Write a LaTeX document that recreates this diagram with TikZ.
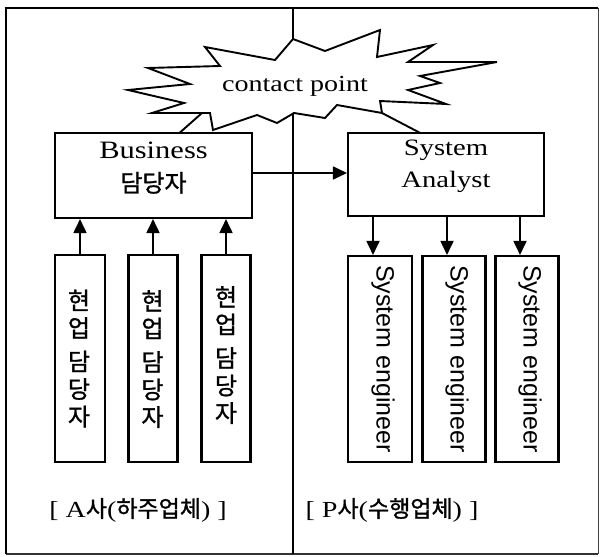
\documentclass[tikz,border=0pt]{standalone}
\usepackage{fontspec}
\setmainfont{Liberation Serif}[FakeStretch=1.22]
\newfontfamily\kr{Noto Sans CJK KR}[FakeBold=1.2]
\newfontfamily\sse{Liberation Sans}
\usetikzlibrary{arrows.meta}
\tikzset{
  boxn/.style={draw, line width=2.1pt, fill=white, inner sep=0pt},
  lbl/.style={inner sep=0pt, align=center},
  arr/.style={line width=1.8pt, -{Triangle[length=14pt,width=13pt]}},
  burst/.style={draw, line width=1.9pt, fill=white, line join=miter},
  sidetxt/.style={inner sep=0pt, rotate=-90, font=\sse\fontsize{25}{25}\selectfont}
}
\begin{document}
\begin{tikzpicture}[x=1pt,y=-1pt]
\useasboundingbox (0,0) rectangle (601,556);
% frame
\draw[line width=1pt, black!75] (598,8) -- (598,554);
\draw[line width=1.2pt, black!80] (6,554) -- (598,554);
\draw[line width=2.8pt] (4.6,8) -- (598,8);
\draw[line width=2.8pt] (6,8) -- (6,554);
\coordinate (dtop) at (293,8);
\coordinate (dbot) at (293,554);
\draw[line width=1.6pt] (dtop) -- (dbot);
% burst
\draw[burst] (205,47) -- (220,66) -- (148,68) -- (190,84) -- (128,90) -- (184,103) -- (152,113) -- (202,113) -- (210,113) -- (213,130) -- (257,115) -- (277,123) -- (294,113) -- (325,118) -- (337,105) -- (382,113) -- (380,101) -- (446,104) -- (408,90) -- (440,83) -- (420,76) -- (497,62) -- (408,62) -- (433,45) -- (377,57) -- (380,30) -- (325,51) -- (293,39) -- (275,60) -- cycle;
\draw[line width=1.9pt] (202,113) -- (176,136);
\draw[line width=1.9pt] (382,113) -- (426,136);
\node[lbl, font=\fontsize{23}{23}\selectfont] (cp) at (295,86) {contact point};
% main boxes
\node[boxn, minimum width=197pt, minimum height=85pt] (biz) at (153.5,175.5) {};
\node[lbl, font=\fontsize{25}{33}\selectfont] (biztxt) at (153.5,168) {Business\\{\kr\fontsize{24}{33}\selectfont 담당자}};
\node[boxn, minimum width=196pt, minimum height=83pt] (sa) at (446,174.5) {};
\node[lbl, font=\fontsize{23.5}{32}\selectfont] (satxt) at (446,166) {System\\Analyst};
\draw[arr] ([yshift=2.5pt]biz.east) -- ([yshift=2.5pt]biz.east -| sa.west);
% left boxes
\node[boxn, minimum width=50pt, minimum height=207pt] (l1) at (80,358.5) {};
\node[boxn, minimum width=49pt, minimum height=207pt] (l2) at (153,358.5) {};
\node[boxn, minimum width=49pt, minimum height=207pt] (l3) at (226,358.5) {};
\node[lbl, font=\kr\fontsize{24}{27.5}\selectfont] (l1t) at (79,358.5) {현\\업\\[6pt]담\\당\\자};
\node[lbl, font=\kr\fontsize{24}{27.5}\selectfont] (l2t) at (152.5,359) {현\\업\\[6pt]담\\당\\자};
\node[lbl, font=\kr\fontsize{24}{27.5}\selectfont] (l3t) at (226,355) {현\\업\\[6pt]담\\당\\자};
\draw[arr] (l1.north) -- (l1.north |- biz.south);
\draw[arr] (l2.north) -- (l2.north |- biz.south);
\draw[arr] (l3.north) -- (l3.north |- biz.south);
% right boxes
\node[boxn, minimum width=64pt, minimum height=206pt] (r1) at (380,359) {};
\node[boxn, minimum width=63pt, minimum height=206pt] (r2) at (454,359) {};
\node[boxn, minimum width=63pt, minimum height=206pt] (r3) at (527,359) {};
\node[sidetxt] (r1t) at ([xshift=3pt]r1.center) {System engineer};
\node[sidetxt] (r2t) at ([xshift=3pt]r2.center) {System engineer};
\node[sidetxt] (r3t) at ([xshift=3pt]r3.center) {System engineer};
\draw[arr] ([xshift=-7pt]r1.north |- sa.south) -- ([xshift=-7pt]r1.north);
\draw[arr] ([xshift=-7pt]r2.north |- sa.south) -- ([xshift=-7pt]r2.north);
\draw[arr] ([xshift=-7pt]r3.north |- sa.south) -- ([xshift=-7pt]r3.north);
% bottom labels
\node[lbl, font=\fontsize{23}{23}\selectfont] (labA) at (138,510) {[ A{\kr\fontsize{23}{23}\selectfont 사}({\kr\fontsize{23}{23}\selectfont 하주업체}) ]};
\node[lbl, font=\fontsize{23}{23}\selectfont] (labP) at (392,510) {[ P{\kr\fontsize{23}{23}\selectfont 사}({\kr\fontsize{23}{23}\selectfont 수행업체}) ]};
\end{tikzpicture}
\end{document}
